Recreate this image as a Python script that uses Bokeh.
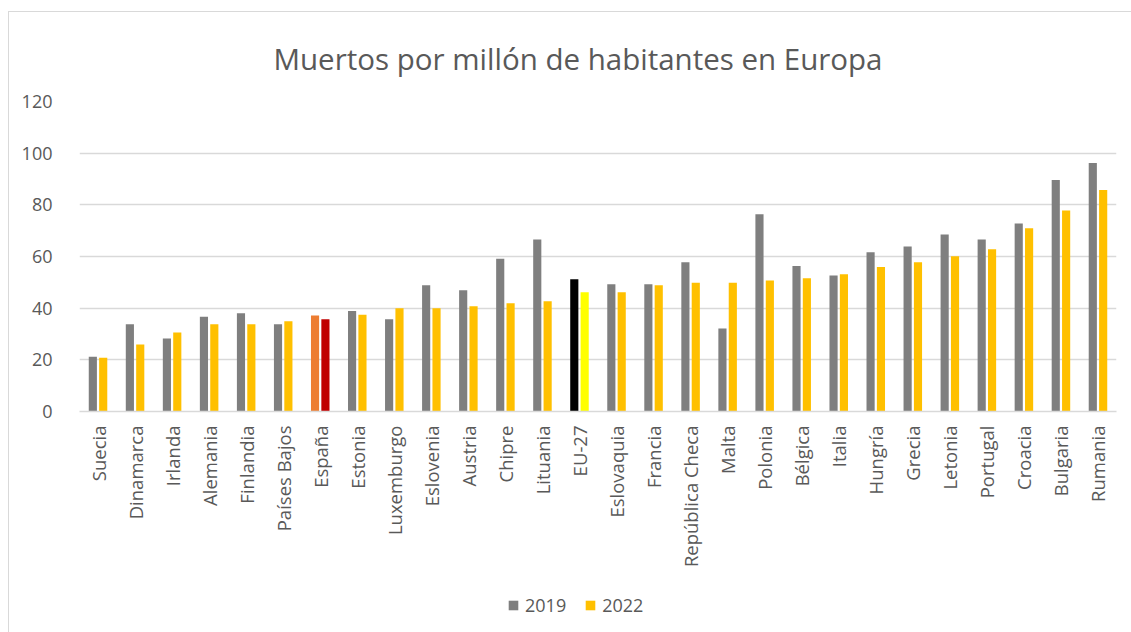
from bokeh.plotting import figure
from bokeh.models import FactorRange, Range1d, Legend, LegendItem, ColumnDataSource, FixedTicker
from bokeh.layouts import column
from bokeh.transform import dodge
from bokeh.embed import file_html
from bokeh.resources import INLINE
import math

countries = ["Suecia", "Dinamarca", "Irlanda", "Alemania", "Finlandia", "Países Bajos",
             "España", "Estonia", "Luxemburgo", "Eslovenia", "Austria", "Chipre", "Lituania",
             "EU-27", "Eslovaquia", "Francia", "República Checa", "Malta", "Polonia", "Bélgica",
             "Italia", "Hungría", "Grecia", "Letonia", "Portugal", "Croacia", "Bulgaria", "Rumania"]
v2019 = [21.2, 33.8, 28.3, 36.7, 38.0, 33.8, 37.2, 38.9, 35.7, 48.9, 46.9, 59.1, 66.6,
         51.2, 49.3, 49.3, 57.8, 32.1, 76.4, 56.3, 52.6, 61.6, 63.9, 68.5, 66.6, 72.8, 89.6, 96.2]
v2022 = [20.8, 25.9, 30.6, 33.8, 33.8, 34.9, 35.7, 37.5, 40.0, 40.0, 40.7, 41.9, 42.7,
         46.2, 46.2, 48.9, 49.8, 49.8, 50.7, 51.6, 53.1, 55.9, 57.8, 60.1, 62.8, 70.9, 77.8, 85.7]
y_ticks = [0, 20, 40, 60, 80, 100, 120]
series_names = ["2019", "2022"]
title_text = "Muertos por millón de habitantes en Europa"

GRAY, YELLOW = "#7f7f7f", "#ffc000"
c2019 = []
c2022 = []
for c in countries:
    if c == "España":
        c2019.append("#ed7d31"); c2022.append("#c00000")
    elif c == "EU-27":
        c2019.append("#000000"); c2022.append("#ffff00")
    else:
        c2019.append(GRAY); c2022.append(YELLOW)

src = ColumnDataSource(dict(x=countries, a=v2019, b=v2022, ca=c2019, cb=c2022))

FONT = "Open Sans"
TXT = "#595959"
BORDER = "1px solid #d9d9d9"

p = figure(width=1123, height=575, x_range=FactorRange(*countries, range_padding=0),
           y_range=Range1d(0, 120), output_backend="svg", toolbar_location=None,
           min_border_left=70, min_border_right=16, min_border_top=88, min_border_bottom=176)
p.styles = {"border-left": BORDER, "border-top": BORDER, "box-sizing": "border-box"}

r1 = p.vbar(x=dodge("x", -0.14, range=p.x_range), top="a", width=0.22, source=src,
            fill_color="ca", line_color=None)
r2 = p.vbar(x=dodge("x", 0.14, range=p.x_range), top="b", width=0.22, source=src,
            fill_color="cb", line_color=None)

p.outline_line_color = None
p.xgrid.grid_line_color = None
p.ygrid.grid_line_color = "#d9d9d9"
p.ygrid.grid_line_width = 1.3
p.yaxis.ticker = FixedTicker(ticks=y_ticks)
p.yaxis.axis_line_color = None
p.yaxis.major_tick_line_color = None
p.yaxis.minor_tick_line_color = None
p.yaxis.major_label_text_font = FONT
p.yaxis.major_label_text_font_size = "18px"
p.yaxis.major_label_text_color = TXT
p.yaxis.major_label_standoff = 21

p.xaxis.axis_line_color = "#d9d9d9"
p.xaxis.axis_line_width = 1.3
p.xaxis.major_tick_line_color = None
p.xaxis.minor_tick_line_color = None
p.xaxis.major_label_orientation = math.pi / 2
p.xaxis.major_label_text_font = FONT
p.xaxis.major_label_text_font_size = "18.5px"
p.xaxis.major_label_text_color = TXT
p.xaxis.major_label_standoff = 8

p.title.text = title_text
p.title.align = "left"
p.title.offset = 194
p.title.text_font = FONT
p.title.text_font_size = "29.5px"
p.title.text_font_style = "normal"
p.title.text_color = TXT
p.title.standoff = 46

# legend strip below the chart (proxy bars sit outside its visible y range)
lg = figure(width=1123, height=46, x_range=p.x_range, y_range=Range1d(200, 201),
            output_backend="svg", toolbar_location=None,
            x_axis_location=None, y_axis_location=None,
            min_border_left=0, min_border_right=0, min_border_top=0, min_border_bottom=0)
lg.styles = {"border-left": BORDER, "box-sizing": "border-box"}
lg.outline_line_color = None
lg.xgrid.visible = False
lg.ygrid.visible = False
k1 = lg.vbar(x="x", top="a", width=0.2, source=src, fill_color=GRAY, line_color=None)
k2 = lg.vbar(x="x", top="b", width=0.2, source=src, fill_color=YELLOW, line_color=None)
legend = Legend(items=[LegendItem(label=series_names[0], renderers=[k1], index=0),
                       LegendItem(label=series_names[1], renderers=[k2], index=0)],
                orientation="horizontal", location=(428, 15),
                label_text_font=FONT, label_text_font_size="18px", label_text_color=TXT,
                glyph_width=12, glyph_height=12, spacing=18, label_standoff=6,
                border_line_color=None, background_fill_alpha=0, margin=0, padding=4)
lg.add_layout(legend, "center")

layout = column(p, lg, spacing=0)
layout.styles = {"margin-left": "8px", "margin-top": "11px"}

open("out.html", "w").write(file_html(layout, INLINE))
